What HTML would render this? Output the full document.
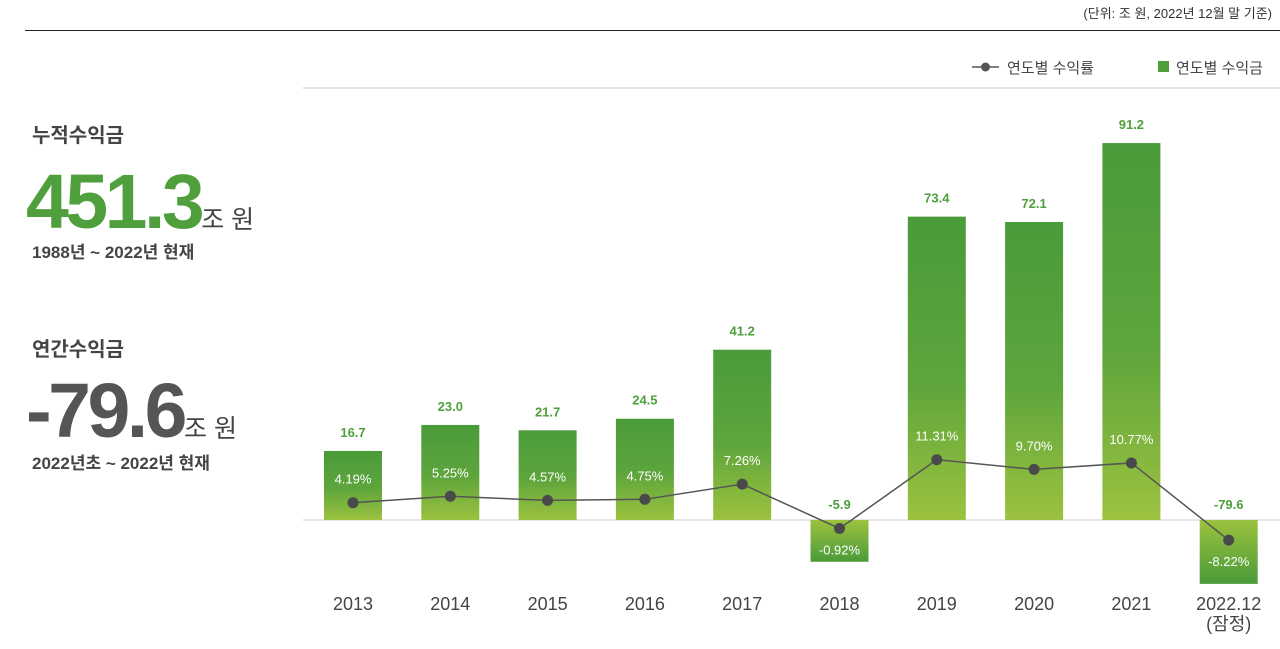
<!DOCTYPE html>
<html><head><meta charset="utf-8"><style>
body{margin:0;background:#fff;width:1280px;height:649px;overflow:hidden;font-family:"Liberation Sans","Noto Sans CJK KR",sans-serif}
svg{display:block}
</style></head><body>
<svg id="chart" width="1280" height="649" xmlns="http://www.w3.org/2000/svg" font-family="Liberation Sans, Noto Sans CJK KR, sans-serif">
<defs>
<linearGradient id="gPos" x1="0" y1="0" x2="0" y2="1"><stop offset="0" stop-color="#4a9b3a"/><stop offset="0.55" stop-color="#5ea53c"/><stop offset="1" stop-color="#9cc23f"/></linearGradient>
<linearGradient id="gNeg" x1="0" y1="0" x2="0" y2="1"><stop offset="0" stop-color="#9cc23f"/><stop offset="1" stop-color="#4a9b3a"/></linearGradient>
</defs>
<text x="1272" y="18" text-anchor="end" font-size="13" fill="#333">(단위: 조 원, 2022년 12월 말 기준)</text>
<line x1="25" y1="30.5" x2="1280" y2="30.5" stroke="#222" stroke-width="1"/>
<text x="32" y="142" font-size="20" font-weight="bold" fill="#444">누적수익금</text>
<text x="26" y="228" font-size="77" font-weight="bold" fill="#4f9f3c" letter-spacing="-3.5">451.3<tspan font-size="25" font-weight="normal" fill="#444" letter-spacing="0">조 원</tspan></text>
<text x="32" y="258" font-size="17" font-weight="bold" fill="#444">1988년 ~ 2022년 현재</text>
<text x="32" y="356" font-size="20" font-weight="bold" fill="#444">연간수익금</text>
<text x="26" y="437" font-size="77" font-weight="bold" fill="#555" letter-spacing="-3.5">-79.6<tspan font-size="25" font-weight="normal" fill="#444" letter-spacing="0">조 원</tspan></text>
<text x="32" y="469" font-size="17" font-weight="bold" fill="#444">2022년초 ~ 2022년 현재</text>
<g>
<line x1="972" y1="67" x2="999" y2="67" stroke="#555" stroke-width="1.5"/>
<circle cx="985.5" cy="67" r="4.5" fill="#555"/>
<text x="1007" y="73" font-size="15" fill="#444">연도별 수익률</text>
<rect x="1158" y="61" width="11" height="11" fill="#4f9f3c"/>
<text x="1176" y="73" font-size="15" fill="#444">연도별 수익금</text>
</g>
<line x1="303" y1="88" x2="1280" y2="88" stroke="#e2e2e2" stroke-width="2"/>
<line x1="303" y1="520" x2="1280" y2="520" stroke="#ddd" stroke-width="1.5"/>
<g id="bars"></g><g id="line"></g><g id="labels"></g>
</svg>
<script>
const categories=["2013","2014","2015","2016","2017","2018","2019","2020","2021","2022.12"];
const profits=[16.7,23.0,21.7,24.5,41.2,-5.9,73.4,72.1,91.2,-79.6];
const rates=[4.19,5.25,4.57,4.75,7.26,-0.92,11.31,9.70,10.77,-8.22];
const NS="http://www.w3.org/2000/svg";
const x0=353,step=97.3,bw=58,base=520;
function xPos(i){return x0+i*step;}
function yProfit(v){return v>=0?base-v*4.133:base+40+Math.abs(v)*0.3;}
function yRate(v){return v>=0?528-v*6.04:527+Math.abs(v)*1.6;}
function mk(tag,attrs,parent,text){const e=document.createElementNS(NS,tag);for(const k in attrs)e.setAttribute(k,attrs[k]);if(text!==undefined)e.textContent=text;parent.appendChild(e);return e;}
const gb=document.getElementById('bars'),gl=document.getElementById('line'),gt=document.getElementById('labels');
let pts=[];
categories.forEach((c,i)=>{
 const x=xPos(i),v=profits[i],y=yProfit(v);
 const r=mk('rect',{x:x-bw/2,y:Math.min(y,base),width:bw,height:Math.abs(y-base),fill:v>=0?'url(#gPos)':'url(#gNeg)'},gb);
 
 
 const pv=mk('text',{x:x,y:v>=0?y-14:base-11,'text-anchor':'middle','font-size':13,'font-weight':'bold',fill:'#4f9f3c'},gt,v.toFixed(1));
 
 
 const ry=yRate(rates[i]);pts.push([x,ry]);
 const rl=mk('text',{x:x,y:rates[i]>=0?ry-19:ry+26,'text-anchor':'middle','font-size':13,fill:'#fff'},gt,rates[i].toFixed(2)+'%');
 
 
 const parts=c==="2022.12"?["2022.12","(잠정)"]:[c];
 parts.forEach((p,j)=>{const t=mk('text',{x:x,y:610+j*20,'text-anchor':'middle','font-size':18,fill:'#444'},gt,p);
 
 });
});
const pl=mk('polyline',{points:pts.map(p=>p.join(',')).join(' '),fill:'none',stroke:'#555','stroke-width':1.5},gl);


pts.forEach((p,i)=>{const c=mk('circle',{cx:p[0],cy:p[1],r:5.5,fill:'#4a4a4a'},gl);

});
</script>
</body></html>
